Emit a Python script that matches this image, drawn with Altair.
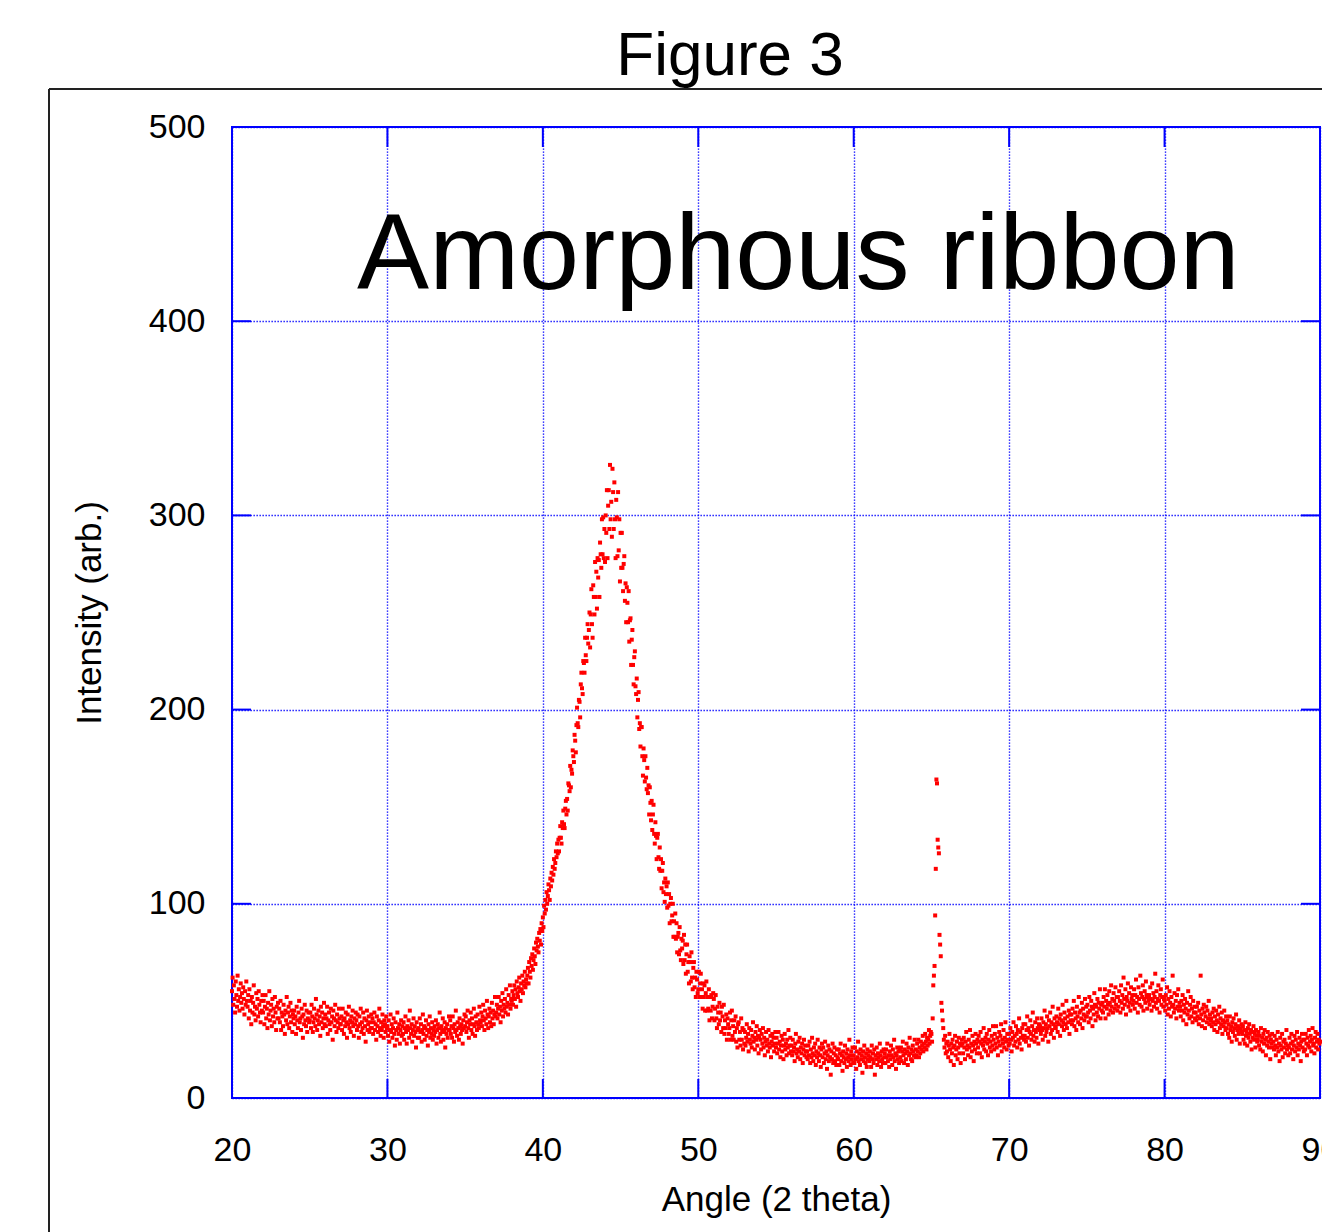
import altair as alt
import pandas as pd

# ---------------- data (intensity, 0.04 deg steps) ----------------
STEP = 0.04

seg_20s = [
    [55, 62, 48, 58, 51, 44, 60, 53, 47, 63, 50, 56, 45, 52, 59, 49, 54, 46, 57, 51, 43, 55, 48, 60, 50],
    [47, 53, 41, 56, 45, 50, 38, 52, 44, 49, 58, 43, 47, 40, 54, 46, 51, 42, 55, 48, 44, 39, 50, 45, 53],
    [44, 50, 38, 47, 53, 41, 46, 36, 49, 43, 55, 40, 45, 48, 37, 51, 42, 46, 39, 52, 44, 35, 47, 41, 49],
    [41, 46, 39, 50, 35, 44, 42, 37, 48, 43, 33, 45, 40, 52, 38, 44, 47, 36, 42, 49, 39, 45, 34, 43, 41],
    [45, 38, 42, 33, 47, 40, 36, 44, 50, 39, 41, 35, 46, 42, 31, 43, 38, 48, 40, 37, 45, 34, 41, 44, 39],
    [40, 44, 36, 48, 42, 34, 39, 46, 41, 37, 51, 43, 35, 40, 45, 38, 42, 32, 47, 39, 44, 36, 41, 49, 38],
    [43, 37, 41, 47, 33, 40, 44, 38, 35, 46, 39, 42, 30, 45, 41, 37, 48, 40, 34, 43, 39, 36, 46, 41, 38],
    [38, 42, 35, 46, 40, 33, 41, 37, 44, 39, 31, 43, 38, 47, 36, 40, 34, 42, 39, 45, 37, 32, 41, 38, 44],
    [40, 35, 43, 37, 31, 42, 38, 46, 34, 39, 36, 44, 33, 41, 37, 29, 40, 45, 35, 38, 42, 34, 39, 36, 43],
    [36, 41, 33, 39, 44, 35, 38, 30, 42, 37, 34, 40, 46, 36, 32, 39, 35, 43, 37, 31, 40, 38, 34, 42, 36],
]
seg_30s = [
    [37, 32, 40, 29, 35, 43, 34, 38, 31, 36, 41, 33, 27, 39, 35, 30, 44, 36, 33, 38, 28, 35, 40, 32, 37],
    [33, 39, 30, 36, 42, 34, 28, 37, 35, 40, 31, 45, 36, 33, 38, 29, 35, 41, 32, 37, 34, 26, 39, 35, 31],
    [36, 31, 41, 34, 38, 29, 35, 43, 33, 37, 30, 36, 40, 32, 35, 27, 38, 34, 42, 31, 36, 33, 39, 30, 35],
    [32, 37, 34, 40, 28, 35, 38, 31, 36, 44, 33, 29, 37, 35, 41, 30, 34, 39, 26, 36, 33, 38, 31, 35, 42],
    [35, 40, 33, 37, 31, 42, 36, 29, 38, 34, 45, 35, 32, 39, 36, 30, 41, 37, 33, 38, 35, 28, 40, 36, 43],
    [37, 42, 34, 39, 45, 36, 31, 40, 38, 44, 35, 41, 33, 38, 46, 37, 32, 42, 39, 35, 43, 38, 36, 47, 40],
    [39, 44, 37, 42, 48, 40, 35, 45, 41, 38, 50, 43, 36, 42, 46, 39, 44, 37, 49, 41, 45, 38, 43, 52, 42],
    [44, 48, 41, 46, 52, 43, 47, 39, 50, 45, 54, 42, 48, 46, 51, 44, 56, 47, 49, 43, 53, 48, 58, 46, 51],
    [50, 55, 48, 53, 58, 51, 56, 47, 60, 54, 52, 57, 62, 55, 50, 59, 56, 63, 54, 60, 58, 65, 57, 61, 59],
    [63, 67, 59, 70, 65, 62, 72, 68, 74, 66, 71, 77, 73, 69, 80, 76, 82, 78, 75, 85, 81, 87, 79, 90, 86],
]
seg_40s = [
    [93, 88, 99, 95, 102, 97, 106, 100, 104, 110, 107, 102, 113, 109, 116, 112, 119, 115, 123, 118, 121, 127, 124, 131, 126],
    [133, 127, 134, 140, 134, 131, 142, 139, 148, 141, 139, 149, 153, 146, 154, 148, 162, 161, 158, 171, 160, 169, 167, 179, 176],
    [173, 187, 184, 178, 192, 201, 193, 191, 205, 204, 196, 213, 219, 211, 208, 225, 224, 219, 237, 228, 225, 237, 244, 234, 241],
    [250, 232, 249, 262, 244, 237, 264, 258, 249, 276, 258, 271, 252, 278, 268, 277, 258, 286, 280, 273, 298, 280, 299, 278, 293],
    [276, 300, 291, 313, 278, 305, 313, 293, 326, 298, 307, 289, 324, 312, 293, 317, 298, 278, 308, 299, 279, 312, 282, 298, 266],
    [291, 273, 291, 273, 261, 275, 279, 256, 265, 245, 263, 255, 245, 261, 235, 246, 247, 223, 236, 241, 223, 213, 227, 230, 212],
    [208, 216, 196, 205, 209, 190, 193, 181, 191, 191, 176, 166, 180, 174, 163, 176, 165, 159, 170, 157, 161, 146, 160, 152, 143],
    [153, 138, 146, 151, 136, 131, 142, 135, 123, 134, 136, 124, 118, 129, 117, 123, 108, 117, 121, 106, 111, 101, 113, 105, 109],
    [98, 111, 99, 105, 90, 100, 103, 91, 94, 100, 83, 91, 83, 95, 82, 90, 75, 83, 85, 74, 88, 76, 71, 82, 77],
    [81, 69, 84, 71, 79, 64, 74, 79, 65, 70, 59, 73, 70, 60, 75, 62, 56, 67, 70, 57, 62, 52, 65, 61, 54],
]
seg_50s = [
    [56, 65, 52, 59, 64, 52, 56, 46, 59, 52, 58, 45, 54, 60, 45, 52, 46, 56, 40, 52, 45, 53, 41, 47, 54],
    [51, 40, 46, 53, 41, 36, 47, 44, 38, 49, 40, 44, 34, 47, 42, 36, 48, 33, 40, 36, 43, 30, 41, 38, 33],
    [36, 44, 30, 40, 45, 32, 37, 30, 40, 34, 42, 29, 36, 26, 38, 39, 30, 34, 27, 41, 30, 36, 25, 35, 28],
    [34, 27, 31, 38, 29, 33, 24, 36, 30, 28, 35, 26, 32, 39, 29, 31, 25, 34, 30, 37, 27, 32, 23, 31, 35],
    [30, 25, 33, 28, 36, 26, 31, 22, 29, 34, 27, 30, 24, 35, 28, 26, 32, 21, 29, 33, 27, 31, 24, 28, 34],
    [26, 31, 23, 28, 34, 25, 29, 21, 27, 32, 24, 30, 20, 27, 33, 25, 28, 22, 30, 26, 35, 23, 27, 31, 24],
    [27, 22, 30, 24, 26, 19, 28, 33, 23, 25, 21, 29, 24, 31, 20, 26, 23, 28, 18, 25, 30, 22, 27, 24, 21],
    [24, 20, 27, 22, 29, 18, 25, 21, 31, 23, 19, 26, 22, 28, 17, 24, 21, 30, 23, 19, 26, 22, 16, 25, 28],
    [21, 26, 18, 23, 29, 20, 24, 15, 22, 27, 19, 25, 21, 12, 24, 20, 28, 18, 23, 26, 19, 22, 17, 25, 21],
    [20, 25, 17, 23, 28, 19, 22, 14, 24, 21, 18, 27, 20, 23, 16, 25, 21, 19, 30, 22, 17, 24, 20, 26, 18],
]
seg_60s = [
    [22, 18, 26, 20, 15, 24, 21, 29, 19, 23, 17, 25, 20, 22, 13, 24, 19, 27, 21, 18, 23, 16, 25, 20, 22],
    [19, 24, 21, 16, 27, 20, 23, 18, 25, 12, 22, 20, 26, 17, 23, 21, 19, 28, 22, 16, 24, 20, 18, 25, 21],
    [23, 18, 25, 21, 28, 19, 22, 16, 24, 20, 27, 22, 17, 25, 21, 30, 19, 23, 15, 22, 26, 20, 24, 18, 25],
    [21, 26, 19, 24, 29, 22, 18, 25, 23, 20, 28, 24, 17, 26, 22, 31, 23, 20, 25, 19, 27, 24, 22, 30, 21],
    [25, 22, 28, 24, 30, 21, 26, 23, 29, 25, 27, 32, 24, 28, 26, 33, 29, 25, 31, 27, 30, 35, 28, 32, 34],
    [33, 29, 41, 58, 63, 68, 94, 118, 164, 162, 133, 129, 126, 84, 79, 73, 49, 45, 40, 36, 30, 26, 32, 23, 28],
    [24, 29, 21, 27, 33, 25, 19, 28, 23, 30, 26, 17, 27, 32, 22, 25, 29, 20, 26, 31, 23, 28, 18, 27, 30],
    [28, 23, 31, 26, 20, 29, 34, 25, 27, 22, 30, 26, 35, 21, 28, 24, 32, 27, 19, 29, 25, 33, 28, 23, 30],
    [26, 32, 29, 23, 34, 28, 21, 30, 27, 36, 25, 29, 31, 24, 33, 28, 22, 30, 35, 26, 29, 24, 32, 27, 37],
    [30, 25, 33, 28, 37, 26, 31, 22, 29, 34, 27, 32, 38, 24, 30, 28, 35, 26, 31, 39, 29, 25, 33, 30, 27],
]
seg_70s = [
    [33, 28, 36, 30, 24, 34, 31, 39, 27, 32, 29, 37, 33, 26, 35, 30, 41, 28, 34, 31, 25, 36, 32, 38, 30],
    [32, 38, 29, 35, 42, 31, 36, 27, 34, 40, 33, 30, 37, 44, 32, 35, 29, 39, 34, 31, 41, 36, 28, 38, 35],
    [37, 33, 41, 35, 30, 39, 36, 45, 32, 38, 34, 42, 36, 29, 40, 37, 44, 33, 39, 35, 47, 38, 31, 41, 37],
    [36, 42, 39, 34, 46, 38, 41, 32, 43, 40, 37, 48, 39, 35, 44, 41, 38, 50, 36, 42, 39, 45, 33, 43, 40],
    [43, 38, 46, 40, 50, 37, 44, 41, 35, 47, 42, 39, 52, 44, 38, 45, 41, 49, 36, 46, 43, 40, 51, 42, 47],
    [42, 48, 44, 39, 52, 45, 41, 50, 47, 37, 46, 43, 54, 48, 40, 47, 44, 51, 42, 49, 46, 56, 41, 48, 45],
    [49, 44, 52, 47, 56, 41, 50, 46, 53, 48, 43, 55, 49, 45, 58, 47, 51, 44, 54, 50, 46, 57, 48, 52, 45],
    [52, 47, 55, 50, 44, 58, 49, 53, 46, 62, 51, 48, 56, 43, 52, 50, 59, 47, 54, 49, 45, 57, 51, 53, 48],
    [50, 56, 46, 53, 61, 49, 52, 44, 57, 51, 48, 63, 54, 47, 52, 58, 45, 51, 55, 49, 60, 53, 46, 52, 50],
    [53, 48, 57, 51, 45, 59, 50, 54, 47, 52, 64, 49, 55, 46, 51, 58, 50, 44, 53, 56, 48, 52, 61, 47, 51],
]
seg_80s = [
    [50, 45, 53, 48, 57, 43, 51, 46, 55, 49, 42, 52, 47, 63, 48, 44, 54, 46, 50, 41, 53, 47, 56, 45, 49],
    [47, 42, 50, 45, 53, 40, 48, 44, 51, 46, 38, 49, 43, 55, 45, 41, 48, 52, 42, 46, 39, 50, 44, 47, 41],
    [44, 40, 47, 42, 49, 38, 45, 41, 63, 43, 37, 46, 40, 48, 44, 36, 42, 47, 39, 45, 41, 50, 38, 43, 40],
    [41, 37, 44, 39, 46, 35, 42, 38, 45, 40, 34, 43, 39, 47, 36, 41, 38, 44, 33, 40, 37, 45, 39, 35, 42],
    [36, 40, 33, 38, 31, 42, 35, 37, 29, 39, 34, 41, 36, 32, 38, 43, 30, 35, 37, 33, 40, 28, 36, 34, 38],
    [33, 37, 30, 35, 28, 39, 32, 34, 27, 36, 31, 38, 33, 29, 35, 25, 34, 31, 37, 30, 33, 26, 35, 32, 29],
    [30, 34, 27, 32, 25, 36, 29, 31, 24, 33, 28, 35, 30, 22, 31, 27, 34, 29, 26, 32, 20, 30, 28, 33, 26],
    [29, 25, 32, 27, 22, 30, 26, 34, 24, 28, 19, 31, 27, 25, 33, 21, 29, 26, 30, 23, 28, 35, 25, 27, 22],
    [26, 31, 23, 28, 33, 25, 29, 20, 27, 32, 24, 30, 26, 34, 22, 28, 25, 31, 27, 19, 29, 33, 26, 30, 24],
    [30, 25, 33, 28, 22, 31, 27, 35, 26, 29, 32, 24, 30, 36, 27, 28, 23, 31, 34, 26, 29, 33, 25, 30, 28],
]
end_value = [29]

x_ticks = [20, 30, 40, 50, 60, 70, 80, 90]
y_ticks = [0, 100, 200, 300, 400, 500]
inner_x_ticks = [30, 40, 50, 60, 70, 80]
inner_y_ticks = [100, 200, 300, 400]

annotation = "Amorphous ribbon"
annotation_at = (28.05, 416.5)

# ---------------- build table ----------------
rows = []
for start, seg in [(20, seg_20s), (30, seg_30s), (40, seg_40s), (50, seg_50s),
                   (60, seg_60s), (70, seg_70s), (80, seg_80s)]:
    for k, row in enumerate(seg):
        for j, v in enumerate(row):
            rows.append({"angle": round(start + k + STEP * j, 3), "intensity": v})
rows.append({"angle": 90.0, "intensity": end_value[0]})
df = pd.DataFrame(rows)

W, H = 1088, 971
BLUE = "#0000ff"
FONT = "Liberation Sans"

xscale = alt.Scale(domain=[20, 90], nice=False, zero=False)
yscale = alt.Scale(domain=[0, 500], nice=False, zero=True)

points = alt.Chart(df).mark_square(size=16, color="#ff0000", opacity=1).encode(
    x=alt.X("angle:Q", scale=xscale,
            axis=alt.Axis(values=x_ticks, title="Angle (2 theta)", grid=True,
                          titleY=112, titleBaseline="alphabetic",
                          labelPadding=35, labelFlush=False, labelOverlap=False)),
    y=alt.Y("intensity:Q", scale=yscale,
            axis=alt.Axis(values=y_ticks, title="Intensity (arb.)", grid=True,
                          titleX=-132, titleBaseline="alphabetic",
                          labelPadding=27, labelFlush=False, labelOverlap=False)),
)

tdf_x = pd.DataFrame({"v": inner_x_ticks})
tdf_y = pd.DataFrame({"v": inner_y_ticks})
ticks_bottom = alt.Chart(tdf_x).mark_rule(color=BLUE, strokeWidth=2).encode(
    x=alt.X("v:Q", scale=xscale), y=alt.value(H), y2=alt.value(H - 19))
ticks_top = alt.Chart(tdf_x).mark_rule(color=BLUE, strokeWidth=2).encode(
    x=alt.X("v:Q", scale=xscale), y=alt.value(0), y2=alt.value(20))
ticks_left = alt.Chart(tdf_y).mark_rule(color=BLUE, strokeWidth=2).encode(
    y=alt.Y("v:Q", scale=yscale), x=alt.value(0), x2=alt.value(19))
ticks_right = alt.Chart(tdf_y).mark_rule(color=BLUE, strokeWidth=2).encode(
    y=alt.Y("v:Q", scale=yscale), x=alt.value(W), x2=alt.value(W - 19))

ann_df = pd.DataFrame({"angle": [annotation_at[0]], "intensity": [annotation_at[1]], "t": [annotation]})
ann = alt.Chart(ann_df).mark_text(
    font=FONT, fontSize=108, align="left", baseline="alphabetic", color="black"
).encode(x=alt.X("angle:Q", scale=xscale), y=alt.Y("intensity:Q", scale=yscale), text="t:N")

title_df = pd.DataFrame({"t": ["Figure 3"]})
title = alt.Chart(title_df).mark_text(
    font=FONT, fontSize=62, align="center", baseline="alphabetic", color="black"
).encode(x=alt.value(498), y=alt.value(-52), text="t:N")

one = pd.DataFrame({"a": [0]})
frame_top = alt.Chart(one).mark_rule(color="#222222", strokeWidth=2).encode(
    x=alt.value(-183), x2=alt.value(W + 20), y=alt.value(-38))
frame_left = alt.Chart(one).mark_rule(color="#222222", strokeWidth=2).encode(
    x=alt.value(-183), y=alt.value(-38), y2=alt.value(H + 200))

chart = alt.layer(
    points, ticks_bottom, ticks_top, ticks_left, ticks_right, ann, title, frame_top, frame_left
).properties(
    width=W, height=H,
    autosize=alt.AutoSizeParams(type="none"),
    padding={"left": 232, "top": 127, "right": 2, "bottom": 134},
    background="white",
).configure_view(
    stroke=BLUE, strokeWidth=2
).configure_axis(
    domain=False, ticks=False,
    gridColor=BLUE, gridDash=[1.3, 1.7], gridWidth=1.4, gridOpacity=1,
    labelFont=FONT, labelFontSize=34, labelColor="black",
    titleFont=FONT, titleFontSize=35, titleFontWeight="normal", titleColor="black",
)

chart.save("out.html", embed_options={"renderer": "svg", "actions": False})
